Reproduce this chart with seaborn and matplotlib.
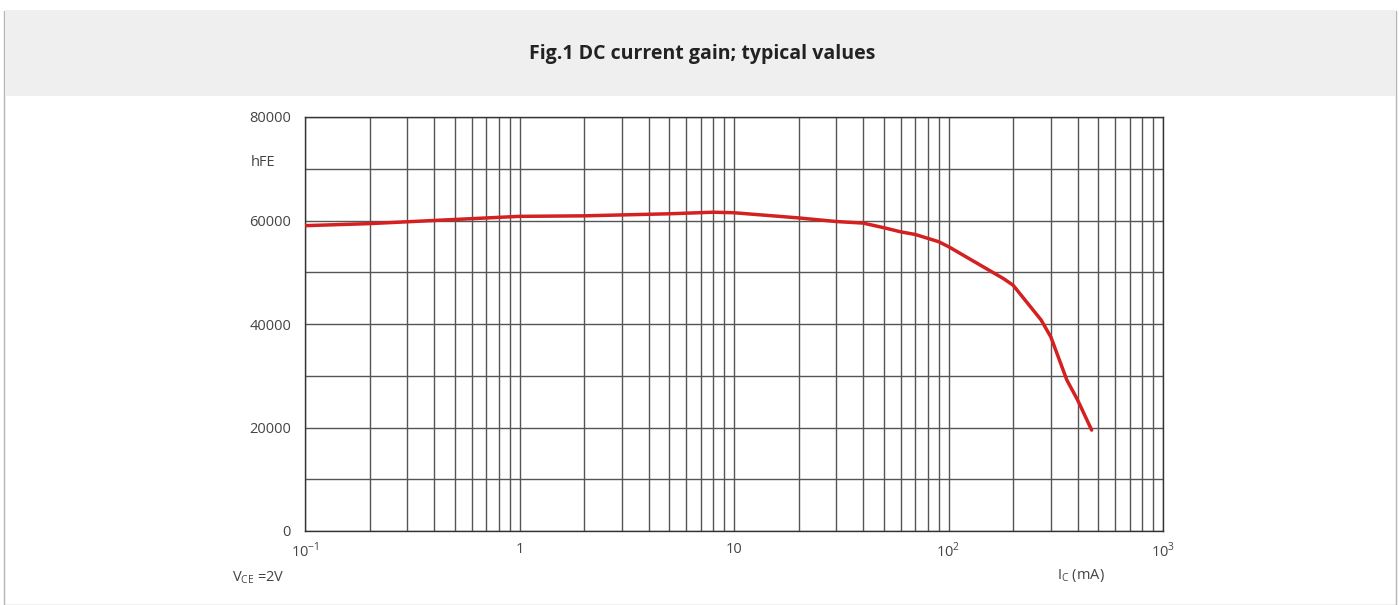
import numpy as np
import pandas as pd
import seaborn as sns
from matplotlib import pyplot as plt
from matplotlib.patches import Rectangle
from matplotlib.ticker import FixedLocator, FuncFormatter, NullFormatter

# collector current (mA) vs DC current gain
ic_ma = [0.1, 0.2, 0.5, 1, 2, 5, 8, 10, 20, 30, 40, 50, 60, 70, 90, 100,
         180, 200, 270, 300, 356, 400, 465]
hfe = [59000, 59400, 60200, 60800, 60900, 61300, 61600, 61500, 60500, 59800,
       59500, 58600, 57800, 57300, 55900, 54950, 48800, 47500, 40800, 37500,
       29200, 25300, 19500]

x_ticks = [0.1, 1, 10, 100, 1000]
x_labels = ["10$^{\\mathregular{-1}}$", "1", "10", "10$^{\\mathregular{2}}$", "10$^{\\mathregular{3}}$"]
y_ticks = list(range(0, 80001, 10000))

sns.set_theme(style="white")
plt.rcParams['font.family'] = ['Open Sans', 'DejaVu Sans']
plt.rcParams['axes.unicode_minus'] = False

W, H = 1399, 605
fig = plt.figure(figsize=(W / 100, H / 100), dpi=100)

# header band and outer frame
fig.patches.append(Rectangle((4 / W, 0), (W - 7) / W, (H - 11) / H, transform=fig.transFigure,
                             facecolor="white", edgecolor="#b5b5b5", lw=1, zorder=-2))
fig.patches.append(Rectangle((4.5 / W, (H - 96) / H), (W - 8) / W, 85 / H, transform=fig.transFigure,
                             facecolor="#efefef", edgecolor="none", zorder=-1))
fig.text(702 / W, (H - 54) / H, "Fig.1 DC current gain; typical values", ha="center", va="center",
         fontsize=14, fontweight="bold", color="#222222")

ax = fig.add_axes([305 / W, (H - 531) / H, 858 / W, 414 / H])
ax.set_zorder(2)
df = pd.DataFrame({"ic": ic_ma, "hfe": hfe})
sns.lineplot(data=df, x="ic", y="hfe", ax=ax, color="#d42020", lw=2.5, zorder=5)

ax.set_xscale("log")
ax.set_xlim(0.1, 1000)
ax.set_ylim(0, 80000)
ax.set_xticks(x_ticks)
ax.set_xticklabels(x_labels)
ax.xaxis.set_minor_locator(FixedLocator([m * 10.0 ** e for e in range(-1, 3) for m in range(2, 10)]))
ax.xaxis.set_minor_formatter(NullFormatter())
ax.set_yticks(y_ticks)
ax.yaxis.set_major_formatter(FuncFormatter(lambda v, p: f"{int(v)}" if v % 20000 == 0 else ""))
ax.grid(True, which="both", axis="x", color="#555555", lw=1)
ax.grid(True, which="major", axis="y", color="#555555", lw=1)
ax.tick_params(axis="both", which="both", length=0, labelsize=10.5, labelcolor="#444444")
ax.tick_params(axis="x", pad=8)
ax.tick_params(axis="y", pad=10)
for s in ax.spines.values():
    s.set_color("#333333")
    s.set_linewidth(1)
ax.set_xlabel("")
ax.set_ylabel("")

fig.text(251 / W, (H - 163) / H, "hFE", ha="left", va="center", fontsize=10.5, color="#444444")
fig.text(232 / W, (H - 578) / H, "V$_{\\mathregular{CE}}$ =2V", ha="left", va="center",
         fontsize=10.5, color="#444444")
fig.text(1057 / W, (H - 576) / H, "I$_{\\mathregular{C}}$ (mA)", ha="left", va="center",
         fontsize=10.5, color="#444444")

fig.savefig("out.png", dpi=100)
